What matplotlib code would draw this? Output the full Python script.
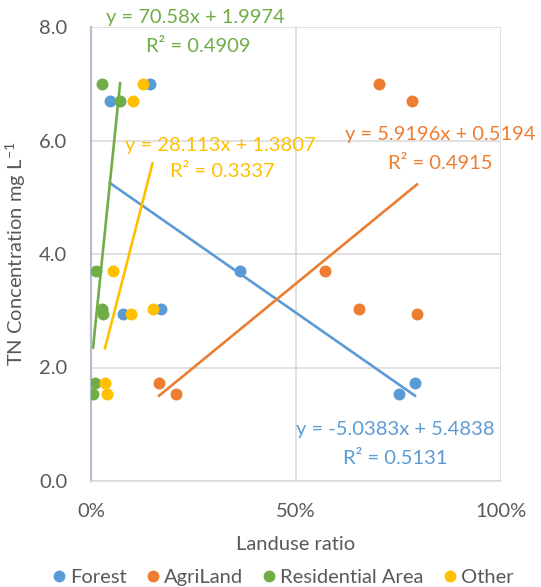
import matplotlib
matplotlib.use("Agg")
import matplotlib.pyplot as plt
from matplotlib.ticker import FuncFormatter, MultipleLocator
from matplotlib.lines import Line2D

plt.rcParams['font.family'] = ['Lato', 'DejaVu Sans']

# ---- data ----
tn = [7.0, 6.7, 3.7, 3.03, 2.94, 1.72, 1.53]
forest = [0.144, 0.046, 0.363, 0.171, 0.078, 0.790, 0.751]
agri = [0.703, 0.783, 0.571, 0.654, 0.795, 0.166, 0.207]
resid = [0.026, 0.071, 0.012, 0.028, 0.030, 0.010, 0.005]
other = [0.128, 0.102, 0.054, 0.150, 0.097, 0.034, 0.038]

series_names = ["Forest", "AgriLand", "Residential Area", "Other"]
series_x = [forest, agri, resid, other]
colors = ["#5B9BD5", "#ED7D31", "#70AD47", "#FFC000"]
slopes = [-5.0383, 5.9196, 70.58, 28.113]
intercepts = [5.4838, 0.5194, 1.9974, 1.3807]
r2 = ["0.5131", "0.4915", "0.4909", "0.3337"]
eq_labels = ["y = -5.0383x + 5.4838", "y = 5.9196x + 0.5194",
             "y = 70.58x + 1.9974", "y = 28.113x + 1.3807"]
# label anchor positions (data coords): equation line, R² line
eq_pos = [(0.743, 0.90), (0.853, 6.11), (0.254, 8.17), (0.315, 5.91)]
r2_pos = [(0.743, 0.40), (0.853, 5.60), (0.261, 7.65), (0.32, 5.45)]

text_col = "#595959"
FS = 14.5

fig = plt.figure(figsize=(5.41, 5.87), dpi=100)
ax = fig.add_axes([91/541, 1-481/587, 410/541, 454/587])

for name, xs, c, m, b in zip(series_names, series_x, colors, slopes, intercepts):
    ax.scatter(xs, tn, s=74, color=c, zorder=3, linewidths=0, label=name)
    x0, x1 = min(xs), max(xs)
    ax.plot([x0, x1], [m*x0 + b, m*x1 + b], color=c, lw=1.9, zorder=2)

for lab, r, c, ep, rp in zip(eq_labels, r2, colors, eq_pos, r2_pos):
    ax.text(ep[0], ep[1], lab, color=c, fontsize=FS, ha='center', va='center', clip_on=False, zorder=5)
    ax.text(rp[0], rp[1], "R² = " + r, color=c, fontsize=FS, ha='center', va='center', clip_on=False, zorder=5)

ax.set_xlim(0, 1)
ax.set_ylim(0, 8)
ax.xaxis.set_major_locator(MultipleLocator(0.5))
ax.yaxis.set_major_locator(MultipleLocator(2))
ax.xaxis.set_major_formatter(FuncFormatter(lambda v, p: f"{v*100:.0f}%"))
ax.yaxis.set_major_formatter(FuncFormatter(lambda v, p: f"{v:.1f}"))
ax.tick_params(length=0, labelsize=FS, colors=text_col)
ax.tick_params(axis='y', pad=17)
ax.tick_params(axis='x', pad=16)
ax.grid(True, color="#D9D9D9", lw=1.1, zorder=0)
ax.set_axisbelow(True)
for s in ['top', 'right']:
    ax.spines[s].set_visible(False)
ax.spines['bottom'].set_color("#D9D9D9")
ax.spines['bottom'].set_linewidth(1.1)
ax.spines['left'].set_color("#B4BDCF")
ax.spines['left'].set_linewidth(1.6)

ax.set_xlabel("Landuse ratio", fontsize=FS, color=text_col, labelpad=11)
ax.set_ylabel("TN Concentration mg L$^{\\mathregular{-1}}$", fontsize=FS, color=text_col, labelpad=8)

handles = [Line2D([], [], marker='o', ls='', color=c, markersize=7.5) for c in colors]
fig.legend(handles, series_names, loc='lower center', bbox_to_anchor=(0.52, -0.03), ncol=4,
           frameon=False, fontsize=FS, labelcolor=text_col, handletextpad=0.05, columnspacing=0.8,
           handlelength=1.0)

fig.savefig("out.png", dpi=100)
